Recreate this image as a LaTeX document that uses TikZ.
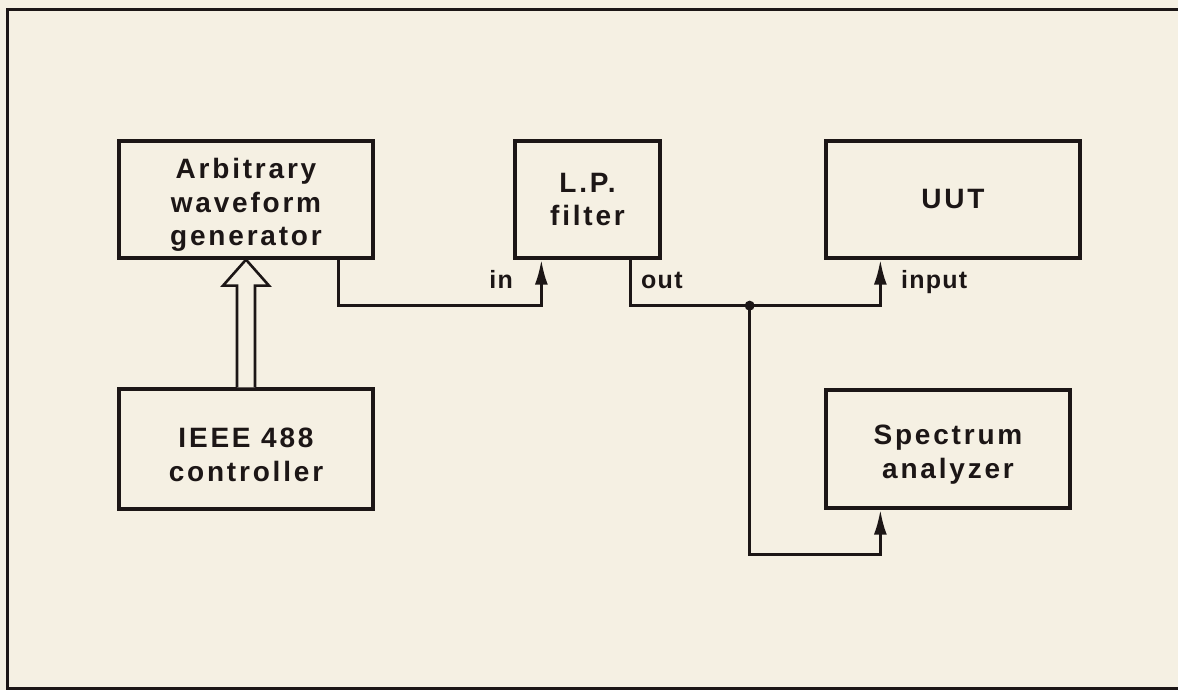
\documentclass[tikz,border=0pt]{standalone}
\usepackage{fontspec}
\setmainfont{Liberation Sans}
\newfontfamily\boxfont[LetterSpace=10]{Liberation Sans Bold}
\newfontfamily\labfont[LetterSpace=5]{Liberation Sans Bold}
\usetikzlibrary{arrows.meta,calc}
\definecolor{paper}{RGB}{245,240,227}
\definecolor{ink}{RGB}{28,22,22}
\newcommand{\toppad}{\rule{0pt}{31pt}}
\tikzset{
  blk/.style={draw=ink, line width=3.3pt, rectangle, align=center, inner sep=0pt,
    font=\boxfont\fontsize{28}{33.5}\selectfont, text=ink},
  wire/.style={draw=ink, line width=3pt},
  tipped/.style={wire, -{Latex[length=25pt,width=13pt]}},
  lab/.style={font=\labfont\fontsize{25}{28}\selectfont, text=ink, inner sep=0pt},
}
\begin{document}
\begin{tikzpicture}[x=1pt,y=-1pt]
\fill[paper] (0,0) rectangle (1178,690);
\useasboundingbox (0,0) rectangle (1178,690);
% outer frame (open on the right)
\draw[ink, line width=3pt] (1180,10) -- (7.5,10) -- (7.5,688) -- (1180,688);

\node[blk, minimum width=254pt, minimum height=117pt] (awg) at (246,199.5) {\toppad Arbitrary\\waveform\\generator};
\node[blk, minimum width=254pt, minimum height=120pt] (ieee) at (246,449) {\toppad IEEE 488\\controller};
\node[blk, minimum width=145pt, minimum height=117pt] (lp) at (587.5,199.5) {L.P.\\filter};
\node[blk, minimum width=254pt, minimum height=117pt] (uut) at (953,199.5) {UUT};
\node[blk, minimum width=244pt, minimum height=118pt] (sa) at (948,449) {\toppad Spectrum\\analyzer};

% hollow bus arrow
\draw[ink, line width=2.6pt, fill=paper, line join=miter]
  ($(ieee.north)+(-9,0)$) -- ($(awg.south)+(-9,26)$) -- ($(awg.south)+(-23,26)$)
  -- (awg.south) -- ($(awg.south)+(23,26)$) -- ($(awg.south)+(9,26)$)
  -- ($(ieee.north)+(9,0)$);

% signal wires
\draw[tipped] ($(awg.south east)+(-36,0)$) |- ($(lp.south west)+(28,46)$) -- ($(lp.south west)+(28,0)$);
\draw[tipped] ($(lp.south east)+(-31,0)$) |- ($(uut.south west)+(56,46)$) -- ($(uut.south west)+(56,0)$);
\coordinate (j) at ($(lp.south east)+(88,46)$);
\draw[tipped] (j) |- ($(sa.south west)+(56,45)$) -- ($(sa.south west)+(56,0)$);
\fill[ink] (j) circle (5pt);

% port labels
\node[lab, anchor=base east] (lin) at (513,288) {in};
\node[lab, anchor=base west] (lout) at (641,288) {out};
\node[lab, anchor=base west] (linput) at (901,288) {input};
\end{tikzpicture}
\end{document}
